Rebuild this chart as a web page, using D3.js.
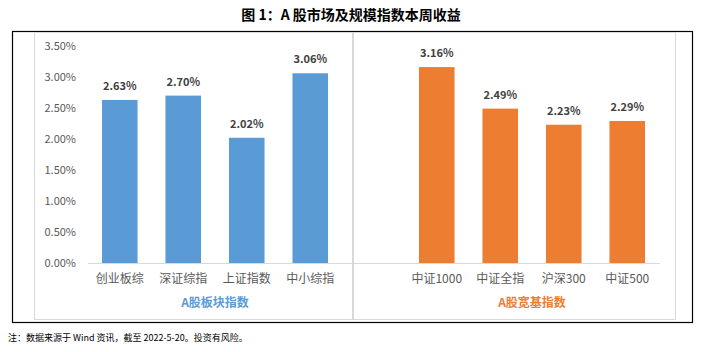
<!DOCTYPE html>
<html>
<head>
<meta charset="utf-8">
<script src="https://cdn.jsdelivr.net/npm/d3@7"></script>
<style>
  body { margin: 0; background: #fff; }
  text { font-family: "Noto Sans CJK SC", "Open Sans", sans-serif; }
</style>
</head>
<body>
<div id="chart"></div>
<script>
// data
var leftCats = ["创业板综", "深证综指", "上证指数", "中小综指"];
var leftVals = [2.63, 2.70, 2.02, 3.06];
var rightCats = ["中证1000", "中证全指", "沪深300", "中证500"];
var rightVals = [3.16, 2.49, 2.23, 2.29];
var yTicks = [0, 0.5, 1.0, 1.5, 2.0, 2.5, 3.0, 3.5];

var svgWidth = 703;
var svgHeight = 352;

var svg = d3.select("#chart")
  .append("svg")
  .attr("width", svgWidth)
  .attr("height", svgHeight);

// title
svg.append("text")
  .attr("x", 351)
  .attr("y", 20)
  .attr("text-anchor", "middle")
  .attr("font-size", "14px")
  .attr("font-weight", "bold")
  .attr("fill", "#000")
  .text("图 1：A 股市场及规模指数本周收益");

// outer black frame
svg.append("rect")
  .attr("x", 12.5).attr("y", 31.5)
  .attr("width", 680).attr("height", 291)
  .attr("fill", "none")
  .attr("stroke", "#000")
  .attr("stroke-width", 1.2);

// two grey chart boxes
svg.append("rect")
  .attr("x", 34.5).attr("y", 32.5)
  .attr("width", 318).attr("height", 287)
  .attr("fill", "none").attr("stroke", "#d9d9d9");
svg.append("rect")
  .attr("x", 353.5).attr("y", 32.5)
  .attr("width", 322).attr("height", 287)
  .attr("fill", "none").attr("stroke", "#d9d9d9");

// shared y scale
var y = d3.scaleLinear()
  .domain([0, 3.5])
  .range([263, 46]);

// left y axis (labels only)
var leftAxis = d3.axisLeft(y)
  .tickValues(yTicks)
  .tickSize(0)
  .tickPadding(0)
  .tickFormat(d => d3.format(".2f")(d) + "%");

var yAxis = svg.append("g")
  .attr("transform", "translate(76,0)")
  .call(leftAxis);
yAxis.select(".domain").remove();
yAxis.selectAll("text")
  .attr("font-size", "11px")
  .attr("fill", "#595959")
  .attr("font-family", "'Open Sans', sans-serif");

function drawPanel(cats, vals, x0, x1, lineStart, lineEnd, color, groupLabel) {
  var x = d3.scaleBand()
    .domain(cats)
    .range([x0, x1])
    .paddingInner(0.44)
    .paddingOuter(0.22);

  var g = svg.append("g");

  g.selectAll("rect.bar")
    .data(vals)
    .enter()
    .append("rect")
    .attr("class", "bar")
    .attr("x", (d, i) => x(cats[i]))
    .attr("y", d => y(d))
    .attr("width", x.bandwidth())
    .attr("height", d => y(0) - y(d))
    .attr("fill", color);

  // baseline
  g.append("line")
    .attr("x1", lineStart).attr("x2", lineEnd)
    .attr("y1", y(0) + 0.5).attr("y2", y(0) + 0.5)
    .attr("stroke", "#d9d9d9");

  // value labels
  g.selectAll("text.val")
    .data(vals)
    .enter()
    .append("text")
    .attr("class", "val")
    .attr("x", (d, i) => x(cats[i]) + x.bandwidth() / 2)
    .attr("y", d => y(d) - 10)
    .attr("text-anchor", "middle")
    .attr("font-size", "11px")
    .attr("font-weight", "bold")
    .attr("fill", "#404040")
    .attr("font-family", "'Open Sans', sans-serif")
    .text(d => d3.format(".2f")(d) + "%");

  // category labels
  var bottomAxis = d3.axisBottom(x).tickSize(0).tickPadding(0);
  var xa = g.append("g")
    .attr("transform", "translate(0,283)")
    .call(bottomAxis);
  xa.select(".domain").remove();
  xa.selectAll("text")
    .attr("dy", 0)
    .attr("font-size", "12px")
    .attr("fill", "#595959");

  // group label
  g.append("text")
    .attr("x", (x0 + x1) / 2)
    .attr("y", 307)
    .attr("text-anchor", "middle")
    .attr("font-size", "12px")
    .attr("font-weight", "bold")
    .attr("fill", color)
    .text(groupLabel);
}

drawPanel(leftCats, leftVals, 88, 342, 88, 353, "#5B9BD5", "A股板块指数");
drawPanel(rightCats, rightVals, 405, 659, 353, 660, "#ED7D31", "A股宽基指数");

// footnote
svg.append("text")
  .attr("x", 8)
  .attr("y", 341)
  .attr("font-size", "9px")
  .attr("fill", "#000")
  .attr("font-family", "'Liberation Serif', 'Noto Sans CJK SC', serif")
  .text("注：数据来源于 Wind 资讯，截至 2022-5-20。投资有风险。");
</script>
</body>
</html>
